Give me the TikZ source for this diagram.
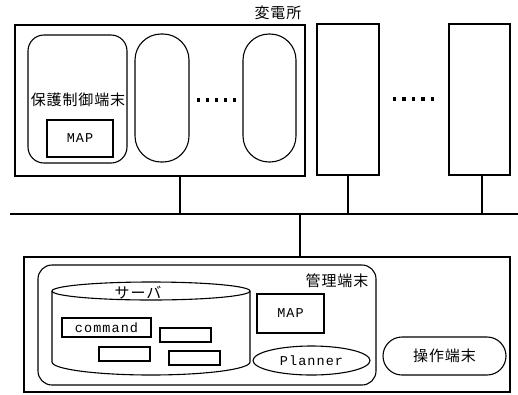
\documentclass[tikz,border=0pt]{standalone}
\usepackage{fontspec}
\newfontfamily\jp{Noto Sans CJK JP}[LetterSpace=6]
\newfontfamily\mono{Liberation Mono}[LetterSpace=8]
\usetikzlibrary{shapes.geometric}
\tikzset{
  box/.style={draw, line width=1.1pt, inner sep=0pt},
  rbox/.style={box, rounded corners=#1},
  jptext/.style={font=\jp\fontsize{15}{15}\selectfont, inner sep=0pt},
  monotext/.style={font=\mono\fontsize{13.5}{13.5}\selectfont, inner sep=0pt},
  wire/.style={line width=2pt},
  dot/.style={fill, inner sep=0pt, minimum size=3.2pt},
}
\begin{document}
\begin{tikzpicture}[x=1pt,y=-1pt]
\useasboundingbox (0,0) rectangle (518,394);
% substation
\node[box, minimum width=290pt, minimum height=151pt] (sub) at (160,100.5) {};
\node[jptext] (sublabel) at (278,13) {変電所};
\node[rbox=16pt, minimum width=99pt, minimum height=128pt] (prot) at (77.5,99) {};
\node[jptext] (prottext) at (78,100) {保護制御端末};
\node[box, minimum width=66pt, minimum height=37pt, monotext] (map1) at (80,138.5) {MAP};
\node[rbox=26pt, minimum width=54pt, minimum height=128pt] (pill2) at (162,98) {};
\node[rbox=26pt, minimum width=53pt, minimum height=128pt] (pill3) at (269.5,98) {};
\foreach \i in {0,...,4} \node[dot] (da\i) at (198.5+9*\i,100) {};
% other boxes
\node[box, minimum width=62pt, minimum height=151pt] (box2) at (348,99.5) {};
\foreach \i in {0,...,4} \node[dot] (db\i) at (394.5+9.5*\i,99) {};
\node[box, minimum width=61pt, minimum height=151pt] (box3) at (479.5,99.5) {};
% bus
\coordinate (busL) at (10,214);
\coordinate (busR) at (518,214);
\draw[wire] (busL) -- (busR);
\draw[wire] ([xshift=20pt]sub.south) -- ([xshift=20pt]sub.south |- busL);
\draw[wire] (box2.south) -- (box2.south |- busL);
\draw[wire] ([xshift=2pt]box3.south) -- ([xshift=2pt]box3.south |- busL);
% bottom
\node[box, minimum width=486pt, minimum height=135pt] (outer) at (267,324.5) {};
\draw[wire] ([xshift=33pt]outer.north) -- ([xshift=33pt]outer.north |- busL);
\node[rbox=14pt, minimum width=338pt, minimum height=120pt] (mgmt) at (207,325) {};
\node[jptext] (mgmttext) at (337,281) {管理端末};
% cylinder
\draw[line width=1.1pt] (151,291) ellipse [x radius=99, y radius=9];
\draw[line width=1.1pt] (52,291) -- (52,362) arc[start angle=180, end angle=0, x radius=99, y radius=13] -- (250,291);
\node[jptext] (server) at (138,293) {サーバ};
\node[box, minimum width=89pt, minimum height=19pt, monotext] (cmd) at (106.5,327.5) {command};
\node[box, minimum width=51pt, minimum height=14pt] (r2) at (185.5,335) {};
\node[box, minimum width=51pt, minimum height=14pt] (r3) at (124.5,354) {};
\node[box, minimum width=51pt, minimum height=14pt] (r4) at (194.5,358) {};
\node[box, minimum width=67pt, minimum height=39pt, monotext] (map2) at (290.5,313.5) {MAP};
\node[box, ellipse, minimum width=117pt, minimum height=29pt, monotext] (planner) at (311.5,360.5) {Planner};
\node[rbox=19pt, minimum width=123pt, minimum height=38pt, jptext] (op) at (444.5,356) {操作端末};
\end{tikzpicture}
\end{document}
